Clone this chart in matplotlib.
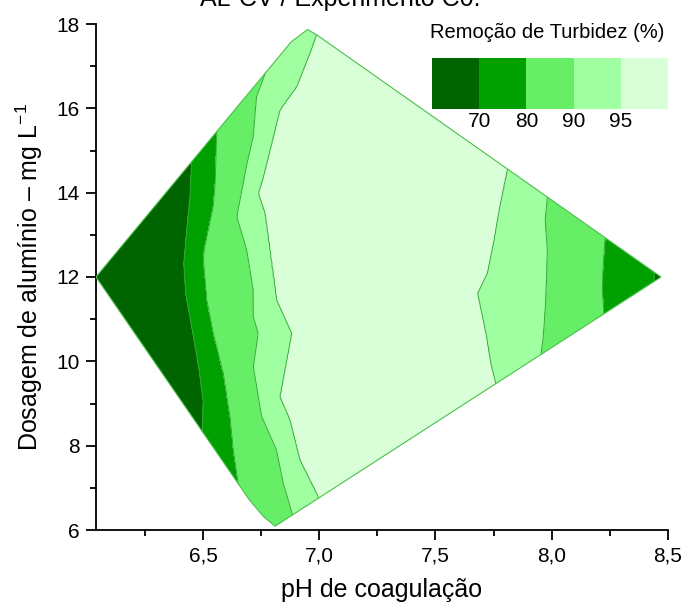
import numpy as np
import matplotlib
matplotlib.use("Agg")
import matplotlib.pyplot as plt
from matplotlib.patches import Polygon

plt.rcParams['font.family'] = ['Liberation Sans', 'DejaVu Sans']
plt.rcParams['mathtext.fontset'] = 'custom'
plt.rcParams['mathtext.rm'] = 'Liberation Sans'
plt.rcParams['mathtext.it'] = 'Liberation Sans'

# níveis e cores da legenda
levels = [50, 70, 80, 90, 95, 100]
level_labels = [70, 80, 90, 95]
colors = ['#006400', '#00A000', '#66EE66', '#A0FFA0', '#D8FFD8']

# contorno do domínio experimental (pH, dosagem)
hull_ph = [6.04, 6.88, 6.95, 6.99, 8.47, 6.81, 6.76, 6.70]
hull_dose = [12.0, 17.58, 17.87, 17.74, 12.0, 6.09, 6.32, 6.71]

# linhas de contorno (lado esquerdo)
l70_ph = [6.452, 6.444, 6.418, 6.427, 6.458, 6.487, 6.501, 6.499]
l70_dose = [14.70, 13.83, 12.32, 11.61, 10.66, 9.72, 9.08, 8.29]
l80_ph = [6.559, 6.552, 6.544, 6.504, 6.501, 6.516, 6.544, 6.587, 6.616, 6.630, 6.651]
l80_dose = [15.41, 14.22, 13.67, 12.64, 12.40, 11.45, 10.66, 9.72, 8.69, 7.90, 7.11]
l90_ph = [6.773, 6.730, 6.716, 6.688, 6.645, 6.688, 6.716, 6.716, 6.737, 6.716,
          6.752, 6.816, 6.845, 6.885]
l90_dose = [16.91, 16.28, 15.33, 14.66, 13.43, 12.64, 11.69, 11.06, 10.66, 9.87,
            8.69, 7.90, 7.11, 6.36]
l95_ph = [6.988, 6.959, 6.902, 6.830, 6.802, 6.759, 6.737, 6.766, 6.816, 6.881,
          6.830, 6.873, 6.916, 6.995]
l95_dose = [17.74, 17.30, 16.51, 15.96, 15.33, 14.38, 13.98, 13.51, 11.45, 10.66,
            9.16, 8.61, 7.66, 6.79]

# lado direito
r95_ph = [7.810, 7.775, 7.753, 7.724, 7.682, 7.718, 7.739, 7.760]
r95_dose = [14.54, 13.59, 12.88, 12.09, 11.61, 10.66, 9.95, 9.48]
r90_ph = [7.982, 7.972, 7.982, 7.975, 7.964, 7.954]
r90_dose = [13.90, 13.35, 12.64, 11.45, 10.58, 10.15]
r80_ph = [8.230, 8.221, 8.218, 8.225]
r80_dose = [12.92, 12.24, 11.69, 11.10]
r70_ph = [8.44, 8.44]
r70_dose = [11.8, 12.2]

xticks = [6.5, 7.0, 7.5, 8.0, 8.5]
xtick_labels = ['6,5', '7,0', '7,5', '8,0', '8,5']
yticks = [6, 8, 10, 12, 14, 16, 18]


def at(dose, ph_pts, dose_pts):
    order = np.argsort(dose_pts)
    return np.interp(dose, np.array(dose_pts)[order], np.array(ph_pts)[order])


# malha para o contourf, construída a partir das linhas lidas
xg = np.linspace(6.0, 8.55, 500)
yg = np.linspace(5.8, 18.2, 400)
Z = np.zeros((len(yg), len(xg)))
for i, d in enumerate(yg):
    a = at(d, l95_ph, l95_dose)
    b = at(d, r95_ph, r95_dose)
    pos = [5.9, at(d, l70_ph, l70_dose), at(d, l80_ph, l80_dose), at(d, l90_ph, l90_dose),
           a, (a + b) / 2, b, at(d, r90_ph, r90_dose), at(d, r80_ph, r80_dose),
           at(d, r70_ph, r70_dose), 8.7]
    vals = [55, 70, 80, 90, 95, 99, 95, 90, 80, 70, 62]
    Z[i] = np.interp(xg, pos, vals)

fig = plt.figure(figsize=(6.83, 6.12), dpi=100)
ax = fig.add_axes([96 / 683, 1 - 530 / 612, 572 / 683, 506 / 612])

hull = Polygon(np.column_stack([hull_ph, hull_dose]), closed=True,
               facecolor='none', edgecolor='#4CBF4C', lw=0.8, zorder=3)
ax.add_patch(hull)

cf = ax.contourf(xg, yg, Z, levels=levels, colors=colors)
cf.set_clip_path(hull)
cl = ax.contour(xg, yg, Z, levels=level_labels, colors='#35A835', linewidths=0.7)
cl.set_clip_path(hull)

ax.set_xlim(6.04, 8.5)
ax.set_ylim(6, 18)
ax.set_xticks(xticks)
ax.set_xticklabels(xtick_labels)
ax.set_xticks(np.arange(6.25, 8.5, 0.5), minor=True)
ax.set_yticks(yticks)
ax.set_yticks(np.arange(7, 18, 2), minor=True)
for s in ['top', 'right']:
    ax.spines[s].set_visible(False)
for s in ['left', 'bottom']:
    ax.spines[s].set_linewidth(1.3)
ax.tick_params(which='major', direction='out', length=7, width=1.3, labelsize=15, pad=5)
ax.tick_params(which='minor', direction='out', length=4, width=1.3)

ax.set_xlabel('pH de coagulação', fontsize=18, labelpad=9)
ax.set_ylabel('Dosagem de alumínio – mg L$^{-1}$', fontsize=18, labelpad=8)

fig.text(0.498, 1 - 6 / 612, 'AL-CV / Experimento C0.', ha='center', va='baseline',
         fontsize=18)

# legenda em barra
cax = fig.add_axes([432 / 683, 1 - 109 / 612, 236 / 683, 51 / 612])
cb = fig.colorbar(cf, cax=cax, orientation='horizontal', spacing='uniform',
                  ticks=level_labels)
cb.outline.set_visible(False)
cax.tick_params(length=0, labelsize=15, pad=2)
fig.text(547 / 683, 1 - 33 / 612, 'Remoção de Turbidez (%)', ha='center', va='center',
         fontsize=14.5)

fig.savefig('out.png', dpi=100)
